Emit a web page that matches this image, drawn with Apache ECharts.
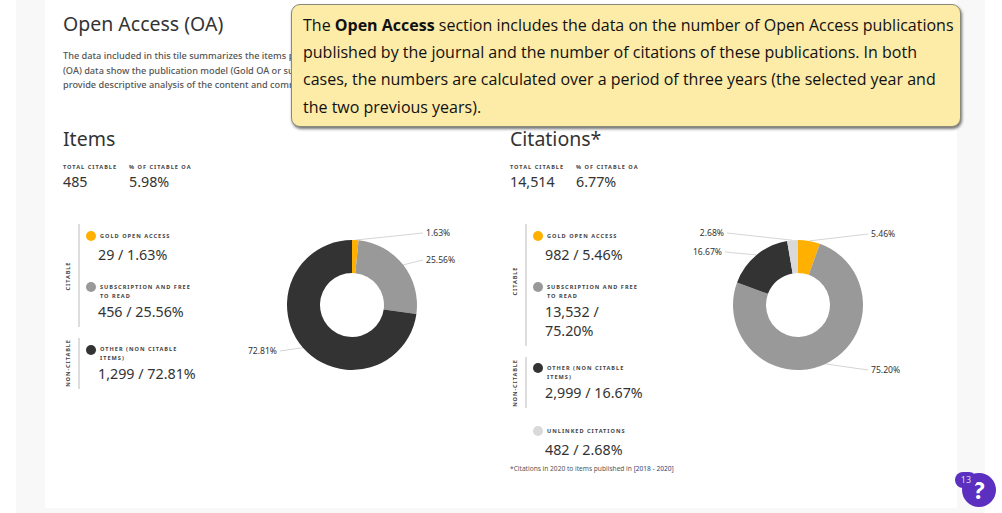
<!DOCTYPE html>
<html><head><meta charset="utf-8">
<script src="https://cdn.jsdelivr.net/npm/echarts@6/dist/echarts.min.js"></script>
<style>
html,body{margin:0;padding:0;background:#fff;overflow:hidden}
#page{position:relative;width:1002px;height:513px;font-family:"Noto Sans",sans-serif;color:#333;overflow:hidden}
#strip{position:absolute;left:16px;top:0;width:969px;height:513px;background:#f8f8f8}
#card{position:absolute;left:45px;top:0;width:912px;height:508px;background:#fff}
#chart{position:absolute;left:0;top:0;width:1002px;height:513px}
.t{position:absolute;white-space:nowrap;line-height:1}
.h1{font-size:19.5px;color:#333}
.p{font-size:9.2px;color:#555;font-weight:500}
.cap{font-size:5.6px;font-weight:700;letter-spacing:1px;color:#444}
.val{font-size:14.3px;color:#333}
.rot{font-size:5.6px;font-weight:700;letter-spacing:.9px;color:#444;transform:translate(-50%,-50%) rotate(-90deg)}
.bar{position:absolute;width:2px;background:#ddd}
.dot{position:absolute;width:10px;height:10px;border-radius:50%}
#tip{position:absolute;left:291px;top:4px;width:670px;height:123px;background:#fdeba8;border:1px solid #8a8a7a;border-radius:9px;box-shadow:1px 2px 3px rgba(0,0,0,.55);font-size:16px;line-height:27.2px;color:#111;padding:7px 0 0 11px;box-sizing:border-box;white-space:nowrap;font-family:"Open Sans",sans-serif;z-index:3}
#help{position:absolute;left:962px;top:473px;width:34px;height:34px;border-radius:50%;background:#5b2fbf;color:#fff;font:700 24px/34px "Open Sans",sans-serif;text-align:center;z-index:4}
#badge{position:absolute;left:955px;top:472px;width:22px;height:16px;border-radius:8px;background:#5b2fbf;color:#ddd;font:9px/16px "Noto Sans",sans-serif;text-align:center;z-index:5}
</style></head><body>
<div id="page"><div id="strip"></div><div id="card"></div><div id="chart"></div>
<div id="tip">The <b>Open Access</b> section includes the data on the number of Open Access publications<br>published by the journal and the number of citations of these publications. In both<br>cases, the numbers are calculated over a period of three years (the selected year and<br>the two previous years).</div>
<div id="badge">13</div><div id="help">?</div></div>
<script>
var itemCategories = ['Gold Open Access','Subscription and Free to Read','Other (Non Citable Items)'];
var itemPercents = [1.63,25.56,72.81];
var citationCategories = ['Gold Open Access','Subscription and Free to Read','Other (Non Citable Items)','Unlinked Citations'];
var citationPercents = [5.46,75.20,16.67,2.68];
var itemColors = ['#ffb000','#999999','#333333'];
var citationColors = ['#ffb000','#999999','#333333','#d9d9d9'];
var itemLabelAnchors = [[423,233,'l'],[423,260,'l'],[280,351,'r']];
var citationLabelAnchors = [[868,234,'l'],[868,370,'l'],[725,252,'r'],[727,233,'r']];
var texts = [
 ['h1',63,14,'Open Access (OA)'],['h1',63,129,'Items'],['h1',510,129,'Citations*'],
 ['p',63,51,'The data included in this tile summarizes the items published'],
 ['p',63,66,'(OA) data show the publication model (Gold OA or subscription'],
 ['p',63,80,'provide descriptive analysis of the content and community'],
 ['cap',63,165,'TOTAL CITABLE'],['cap',129,165,'% OF CITABLE OA'],['val',63,175,'485'],['val',129,175,'5.98%'],
 ['cap',510,165,'TOTAL CITABLE'],['cap',576,165,'% OF CITABLE OA'],['val',510,175,'14,514'],['val',576,175,'6.77%'],
 ['cap',100,234,'GOLD OPEN ACCESS'],['val',98,248,'29 / 1.63%'],
 ['cap',100,285,'SUBSCRIPTION AND FREE'],['cap',100,294,'TO READ'],['val',98,305,'456 / 25.56%'],
 ['cap',100,347,'OTHER (NON CITABLE'],['cap',100,356,'ITEMS)'],['val',98,367,'1,299 / 72.81%'],
 ['cap',547,234,'GOLD OPEN ACCESS'],['val',545,248,'982 / 5.46%'],
 ['cap',547,285,'SUBSCRIPTION AND FREE'],['cap',547,294,'TO READ'],['val',545,305,'13,532 /'],['val',545,324,'75.20%'],
 ['cap',547,366,'OTHER (NON CITABLE'],['cap',547,375,'ITEMS)'],['val',545,386,'2,999 / 16.67%'],
 ['cap',547,429,'UNLINKED CITATIONS'],['val',545,443,'482 / 2.68%']
];
var rotated = [[69,276,'CITABLE'],[69,363,'NON-CITABLE'],[516,281,'CITABLE'],[516,383,'NON-CITABLE']];
var bars = [[78,224,103],[78,338,51],[525,224,122],[525,357,51]];
var dots = [[91,236,'#ffb000'],[91,287,'#999'],[91,350,'#333'],[538,236,'#ffb000'],[538,287,'#999'],[538,368,'#333'],[538,431,'#d9d9d9']];
var page = document.getElementById('page');
function add(cls,x,y,txt){var d=document.createElement('div');d.className=cls;d.style.left=x+'px';d.style.top=y+'px';if(txt)d.textContent=txt;page.appendChild(d);return d;}
texts.forEach(function(t){add('t '+t[0],t[1],t[2],t[3]);});
rotated.forEach(function(t){add('t rot',t[0],t[1],t[2]);});
bars.forEach(function(b){add('bar',b[0],b[1]).style.height=b[2]+'px';});
dots.forEach(function(d){add('dot',d[0]-5,d[1]-5).style.background=d[2];});
var fn = add('t',510,466,''); fn.style.fontSize='6.6px'; fn.style.color='#555';
fn.innerHTML='*Citations in 2020 to items published in <span style="color:#2a4a7a">[2018 - 2020]</span>';

function pie(cx,names,vals,cols,anchors){
  return {type:'pie',center:[cx,305],radius:[32,65],startAngle:90,clockwise:true,silent:true,animation:false,
    data:names.map(function(n,i){return {name:n,value:vals[i],itemStyle:{color:cols[i]}};}),
    label:{show:true,formatter:function(p){return p.value.toFixed(2)+'%';},fontSize:8.6,color:'#333',fontFamily:'"Noto Sans",sans-serif'},
    labelLine:{show:true,length:8,length2:4,lineStyle:{color:'#d5d5d5',width:1}},
    labelLayout:function(p){
      var a=anchors[p.dataIndex], right=a[2]==='l';
      return {x:a[0]+(right?3:-3),y:a[1]-0.5,align:right?'left':'right',verticalAlign:'middle',
        labelLinePoints:[p.labelLinePoints[0],[a[0],a[1]],[a[0],a[1]]]};
    }};
}
var chart = echarts.init(document.getElementById('chart'),null,{renderer:'svg'});
chart.setOption({animation:false,series:[
  pie(352,itemCategories,itemPercents,itemColors,itemLabelAnchors),
  pie(798,citationCategories,citationPercents,citationColors,citationLabelAnchors)
]});
</script></body></html>
